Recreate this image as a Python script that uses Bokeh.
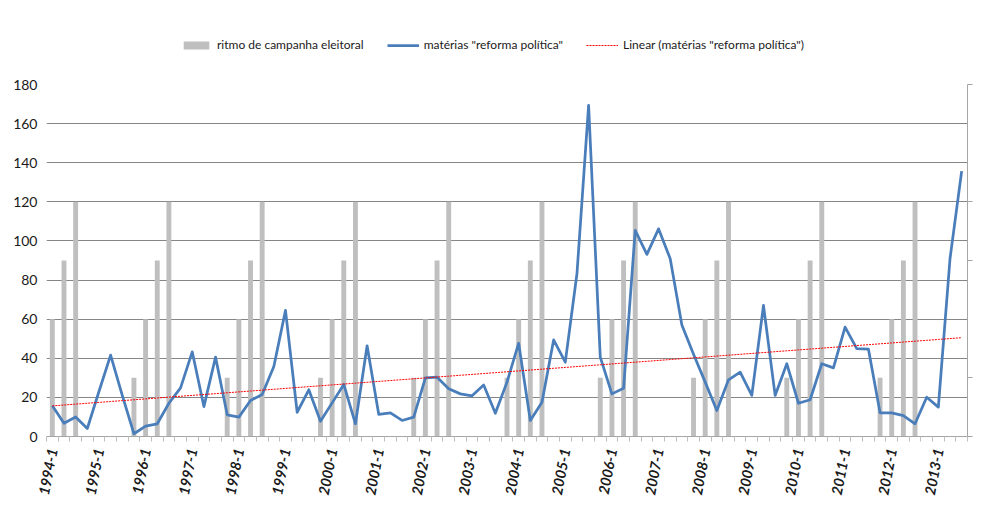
import numpy as np
from bokeh.plotting import figure
from bokeh.layouts import column
from bokeh.models import Range1d, FixedTicker, LinearAxis, Legend, LegendItem
from bokeh.embed import file_html
from bokeh.resources import INLINE

quarters = [
    "1994-1", "1994-2", "1994-3", "1994-4", "1995-1", "1995-2", "1995-3", "1995-4",
    "1996-1", "1996-2", "1996-3", "1996-4", "1997-1", "1997-2", "1997-3", "1997-4",
    "1998-1", "1998-2", "1998-3", "1998-4", "1999-1", "1999-2", "1999-3", "1999-4",
    "2000-1", "2000-2", "2000-3", "2000-4", "2001-1", "2001-2", "2001-3", "2001-4",
    "2002-1", "2002-2", "2002-3", "2002-4", "2003-1", "2003-2", "2003-3", "2003-4",
    "2004-1", "2004-2", "2004-3", "2004-4", "2005-1", "2005-2", "2005-3", "2005-4",
    "2006-1", "2006-2", "2006-3", "2006-4", "2007-1", "2007-2", "2007-3", "2007-4",
    "2008-1", "2008-2", "2008-3", "2008-4", "2009-1", "2009-2", "2009-3", "2009-4",
    "2010-1", "2010-2", "2010-3", "2010-4", "2011-1", "2011-2", "2011-3", "2011-4",
    "2012-1", "2012-2", "2012-3", "2012-4", "2013-1", "2013-2", "2013-3",
]

ritmo = [
    60, 90, 120, 0, 0, 0, 0, 30,
    60, 90, 120, 0, 0, 0, 0, 30,
    60, 90, 120, 0, 0, 0, 0, 30,
    60, 90, 120, 0, 0, 0, 0, 30,
    60, 90, 120, 0, 0, 0, 0, 30,
    60, 90, 120, 0, 0, 0, 0, 30,
    60, 90, 120, 0, 0, 0, 0, 30,
    60, 90, 120, 0, 0, 0, 0, 30,
    60, 90, 120, 0, 0, 0, 0, 30,
    60, 90, 120, 0, 0, 0, 0,
]

materias = [
    15.7, 6.8, 10.0, 4.1, 23.0, 41.6, 21.0, 1.4,
    5.3, 6.5, 17.0, 24.9, 43.3, 15.3, 40.6, 11.1,
    9.9, 18.4, 21.5, 35.8, 64.5, 12.4, 23.9, 7.8,
    17.2, 26.6, 6.5, 46.4, 11.3, 12.1, 8.2, 9.9,
    30.0, 30.3, 24.4, 21.8, 20.8, 26.3, 11.9, 27.8,
    47.7, 8.2, 17.5, 49.4, 38.0, 83.2, 169.3, 40.6,
    21.8, 24.7, 105.4, 93.1, 106.2, 90.9, 57.0, 42.0,
    27.8, 13.3, 29.0, 32.9, 21.0, 67.0, 21.0, 37.2,
    17.0, 18.8, 37.2, 35.1, 55.9, 44.9, 44.7, 12.1,
    12.1, 10.7, 6.5, 20.1, 15.0, 90.9, 135.7,
]

year_labels = ["1994-1", "1995-1", "1996-1", "1997-1", "1998-1", "1999-1", "2000-1",
               "2001-1", "2002-1", "2003-1", "2004-1", "2005-1", "2006-1", "2007-1",
               "2008-1", "2009-1", "2010-1", "2011-1", "2012-1", "2013-1"]
y_ticks = [0, 20, 40, 60, 80, 100, 120, 140, 160, 180]
right_ticks = [0, 30, 90, 120, 180]

series_names = ["ritmo de campanha eleitoral", 'matérias "reforma política"',
                'Linear (matérias "reforma política")']

x = list(range(len(quarters)))
slope, intercept = np.polyfit(x, materias, 1)
trend = [intercept + slope * i for i in x]

FONT = "Lato"
BAR_STYLE = dict(fill_color="#BFBFBF", line_color=None)
LINE_STYLE = dict(line_color="#4A7EBB", line_width=2.75, line_join="round")
TREND_STYLE = dict(line_color="#FF0000", line_width=1, line_dash="2 1")

# ---------- legend strip (separate figure above the chart) ----------
# the same series are drawn here outside the visible y-range, only to feed the legend
lf = figure(width=974, height=76, x_range=Range1d(-0.5, len(quarters) - 0.5),
            y_range=Range1d(1000, 1001),
            x_axis_location=None, y_axis_location=None,
            output_backend="svg", toolbar_location=None,
            min_border_left=0, min_border_right=0, min_border_top=0, min_border_bottom=0)
lf.grid.visible = False
lf.outline_line_color = None
lf.border_fill_color = "white"
lb = lf.vbar(x=x, top=ritmo, width=0.42, **BAR_STYLE)
ll = lf.line(x, materias, **LINE_STYLE)
lt = lf.line(x, trend, **TREND_STYLE)
legend = Legend(items=[LegendItem(label=series_names[0], renderers=[lb]),
                       LegendItem(label=series_names[1], renderers=[ll]),
                       LegendItem(label=series_names[2], renderers=[lt])],
                orientation="horizontal", location=(134, 24))
legend.border_line_color = None
legend.background_fill_alpha = 0
legend.label_text_font = FONT
legend.label_text_font_size = "12px"
legend.label_text_color = "#1a1a1a"
legend.glyph_width = 32
legend.glyph_height = 10
legend.spacing = 23
legend.label_standoff = 5
legend.padding = 0
legend.margin = 0
lf.add_layout(legend, "center")

# ---------- main chart ----------
p = figure(width=974, height=437,
           x_range=Range1d(-0.5, len(quarters) - 0.5), y_range=Range1d(0, 180),
           output_backend="svg", toolbar_location=None,
           min_border_left=46, min_border_right=7, min_border_top=8, min_border_bottom=77)
p.outline_line_color = None
p.background_fill_color = "white"
p.border_fill_color = "white"

p.xgrid.visible = False
p.ygrid.ticker = FixedTicker(ticks=y_ticks[1:])
p.ygrid.grid_line_color = "#868686"
p.ygrid.grid_line_width = 1

p.vbar(x=x, top=ritmo, width=0.42, **BAR_STYLE)
p.line(x, materias, **LINE_STYLE)
p.line(x, trend, **TREND_STYLE)

xa = p.xaxis[0]
xa.ticker = FixedTicker(ticks=[quarters.index(l) for l in year_labels],
                        minor_ticks=[i - 0.5 for i in x] + [len(x) - 0.5])
xa.major_label_overrides = {quarters.index(l): l for l in year_labels}
xa.major_tick_line_color = None
xa.major_tick_out = 5
xa.minor_tick_line_color = "#BFBFBF"
xa.minor_tick_out = 5
xa.minor_tick_in = 0
xa.axis_line_color = "#A6A6A6"
xa.major_label_orientation = 1.38
xa.major_label_text_font = FONT
xa.major_label_text_font_size = "14.5px"
xa.major_label_text_font_style = "bold italic"
xa.major_label_text_color = "#1a1a1a"
xa.major_label_standoff = 7

ya = p.yaxis[0]
ya.ticker = FixedTicker(ticks=y_ticks)
ya.axis_line_color = None
ya.major_tick_line_color = None
ya.minor_tick_line_color = None
ya.major_tick_out = 0
ya.major_tick_in = 0
ya.major_label_standoff = 9
ya.major_label_text_font = FONT
ya.major_label_text_font_size = "14px"
ya.major_label_text_color = "#1a1a1a"

ra = LinearAxis(ticker=FixedTicker(ticks=right_ticks))
ra.axis_line_color = "#A6A6A6"
ra.major_tick_line_color = "#A6A6A6"
ra.major_tick_out = 5
ra.major_tick_in = 0
ra.minor_tick_line_color = None
ra.major_label_text_color = None
ra.major_label_standoff = 0
ra.major_label_overrides = {t: " " for t in right_ticks}
p.add_layout(ra, "right")

layout = column(lf, p, spacing=0)
open("out.html", "w").write(file_html(layout, INLINE))
